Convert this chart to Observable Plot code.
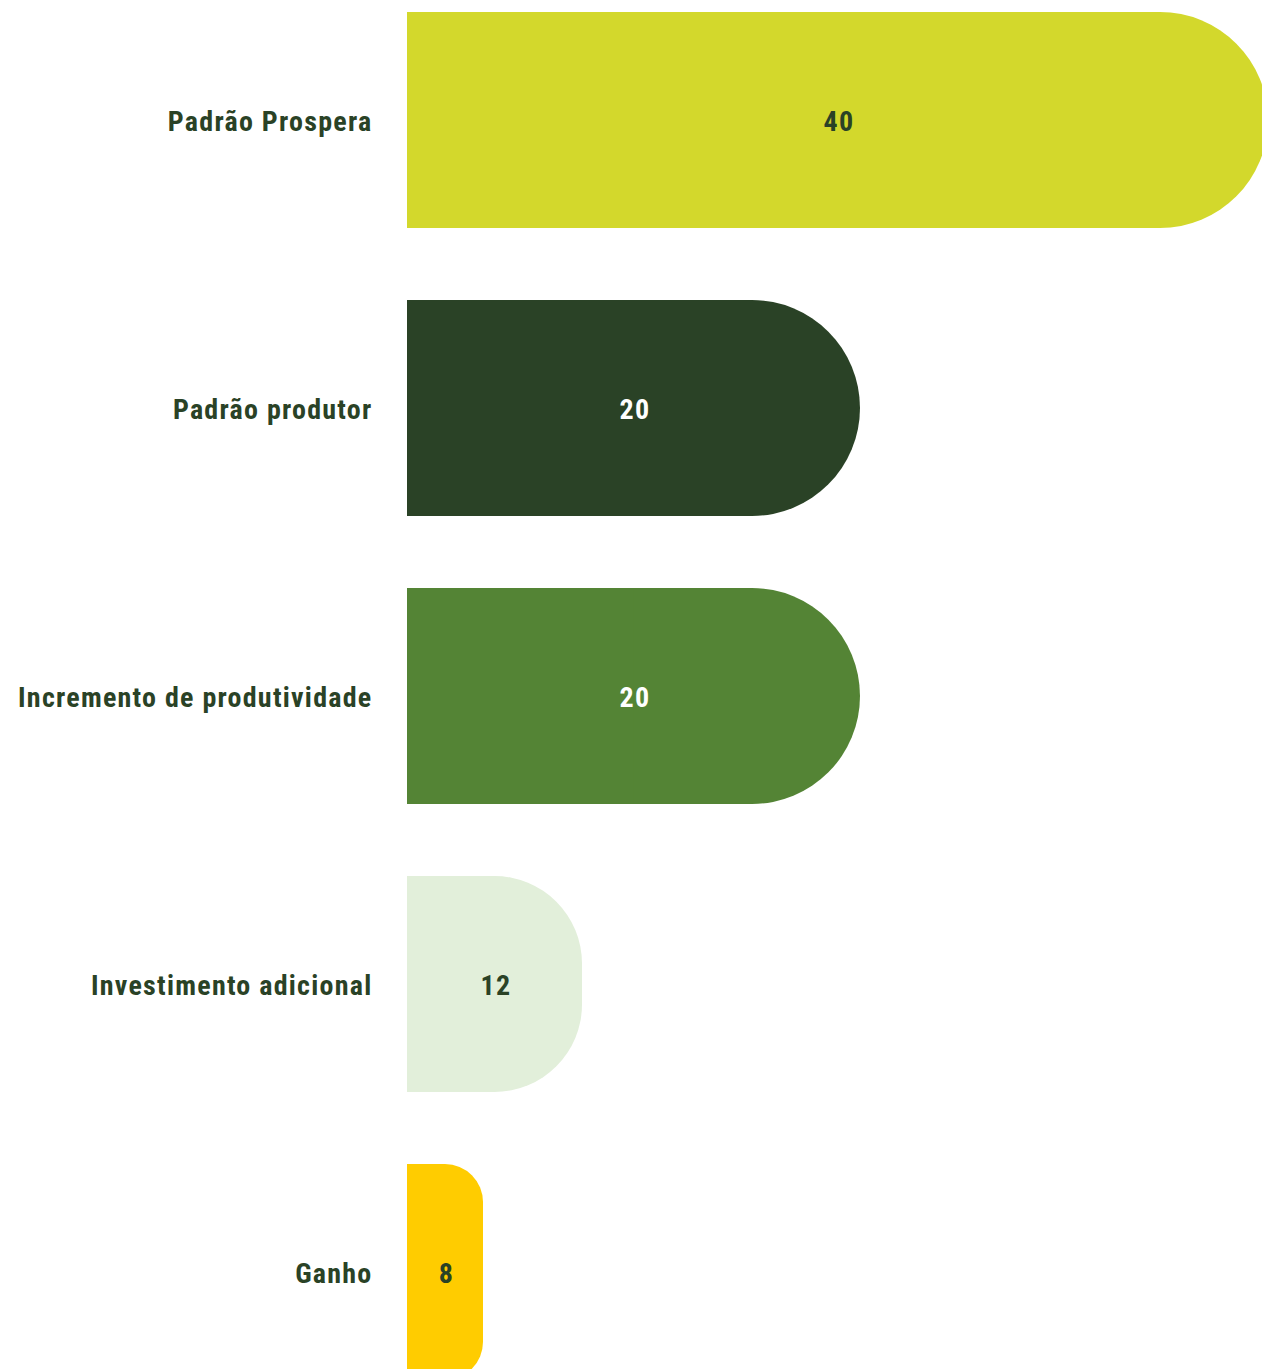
<!DOCTYPE html>
<html>
<head>
<meta charset="utf-8">
<script src="https://cdn.jsdelivr.net/npm/d3@7"></script>
<script src="https://cdn.jsdelivr.net/npm/@observablehq/plot@0.6"></script>
<style>
  html, body { margin: 0; padding: 0; background: #ffffff; overflow: hidden; }
  #chart { width: 1262px; height: 1369px; overflow: hidden; }
</style>
</head>
<body>
<div id="chart"></div>
<script>
// ---- data ----
const categories = ["Padrão Prospera", "Padrão produtor", "Incremento de produtividade", "Investimento adicional", "Ganho"];
const values = [40, 20, 20, 12, 8];
const barColors = ["#D3D82C", "#2A4226", "#548435", "#E2EFDA", "#FFCC00"];
const valueColors = ["#2A4226", "#FFFFFF", "#FFFFFF", "#2A4226", "#2A4226"];

// the infographic uses a non-proportional (piecewise) length scale
const xDomainStops = [0, 8, 12, 20, 40];
const xRangeStops = [407, 483, 582, 860, 1268];

const data = categories.map((c, i) => ({ c, v: values[i], fill: barColors[i], ink: valueColors[i] }));

const fontFamily = "'Roboto Condensed', 'Liberation Sans Narrow', 'DejaVu Sans Condensed', sans-serif";
const ink = "#2A4226";

const xs = Plot.scale({ x: { type: "linear", domain: xDomainStops, range: xRangeStops } });
const mid = v => xs.invert((xs.apply(0) + xs.apply(v)) / 2);

const chart = Plot.plot({
  width: 1262,
  height: 1369,
  marginTop: 0,
  marginBottom: 0,
  marginRight: 0,
  marginLeft: 407,
  x: { type: "linear", domain: xDomainStops, range: xRangeStops, axis: null },
  y: { type: "band", domain: categories, range: [-24, 1416], paddingInner: 0.25, paddingOuter: 0.125, axis: null },
  color: { type: "identity" },
  style: { fontFamily, background: "#ffffff", overflow: "hidden", letterSpacing: "1.25px" },
  marks: [
    Plot.barX(data, { y: "c", x1: 0, x2: "v", fill: "fill" }),
    Plot.barX(data, { y: "c", x1: 0, x2: d => mid(d.v), fill: "fill" }),
    Plot.text(data, { y: "c", x: d => mid(d.v), dx: 1, dy: 2, text: d => String(d.v), fill: "ink", fontSize: 28, fontWeight: "bold" }),
    Plot.text(data, { y: "c", x: 0, dx: -35, dy: 2, text: "c", textAnchor: "end", fill: ink, fontSize: 28, fontWeight: "bold" })
  ]
});

// round only the ends of the first bar layer (pill shape), radius = half of the smaller side
const pillGroup = chart.querySelectorAll('g[aria-label="bar"]')[0];
if (pillGroup) {
  pillGroup.querySelectorAll("rect").forEach(r => {
    const w = +r.getAttribute("width"), h = +r.getAttribute("height");
    const rad = Math.min(w, h) / 2;
    r.setAttribute("rx", rad);
    r.setAttribute("ry", rad);
  });
}

document.getElementById("chart").appendChild(chart);
</script>
</body>
</html>
